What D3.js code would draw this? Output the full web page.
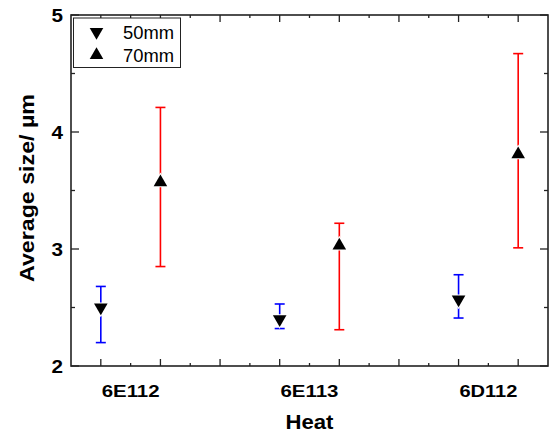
<!DOCTYPE html>
<html>
<head>
<meta charset="utf-8">
<script src="https://cdn.jsdelivr.net/npm/d3@7"></script>
<style>
  body { margin: 0; background: #fff; }
  svg text { font-family: "Liberation Sans", Arial, sans-serif; }
</style>
</head>
<body>
<svg id="chart" width="552" height="433"></svg>
<script>
const heats = ["6E112", "6E113", "6D112"];
const size50 = [2.50, 2.40, 2.57];
const top50  = [2.68, 2.53, 2.78];
const bot50  = [2.20, 2.32, 2.41];
const size70 = [3.57, 3.03, 3.81];
const top70  = [4.21, 3.22, 4.67];
const bot70  = [2.85, 2.31, 3.01];
const yTicks = [2, 3, 4, 5];

const width = 552, height = 433;
const m = { left: 71, right: 4, top: 15, bottom: 67 };
const svg = d3.select("#chart");

const x = d3.scaleLinear().domain([0.5, 8.5]).range([m.left, width - m.right]);
const y = d3.scaleLinear().domain([2, 5]).range([height - m.bottom, m.top]);

// 50mm at slot 1,4,7 ; 70mm at slot 2,5,8
const pts50 = heats.map((h, i) => ({ x: i * 3 + 1, v: size50[i], hi: top50[i], lo: bot50[i] }));
const pts70 = heats.map((h, i) => ({ x: i * 3 + 2, v: size70[i], hi: top70[i], lo: bot70[i] }));

const axisCol = "#222";
const majX = d3.range(1, 9), minX = d3.range(1.5, 8.5, 1);
const majY = yTicks, minY = [2.5, 3.5, 4.5];

const ax = svg.append("g").attr("stroke", axisCol).attr("stroke-width", 1.3);
function ticks(vals, len, side) {
  vals.forEach(v => {
    if (side === "b") ax.append("line").attr("x1", x(v)).attr("x2", x(v)).attr("y1", y(2)).attr("y2", y(2) - len);
    if (side === "t") ax.append("line").attr("x1", x(v)).attr("x2", x(v)).attr("y1", y(5)).attr("y2", y(5) + len);
    if (side === "l") ax.append("line").attr("y1", y(v)).attr("y2", y(v)).attr("x1", x(0.5)).attr("x2", x(0.5) + len);
    if (side === "r") ax.append("line").attr("y1", y(v)).attr("y2", y(v)).attr("x1", x(8.5)).attr("x2", x(8.5) - len);
  });
}
ticks(majX, 7, "b"); ticks(minX, 3, "b");
ticks(majX, 7, "t"); ticks(minX, 3, "t");
ticks(majY, 8, "l"); ticks(minY, 4, "l");
ticks(majY, 8, "r"); ticks(minY, 4, "r");
ax.append("rect").attr("x", x(0.5)).attr("y", y(5))
  .attr("width", x(8.5) - x(0.5)).attr("height", y(2) - y(5))
  .attr("fill", "none").attr("stroke-width", 1.6);

// tick labels
svg.selectAll(".ylab").data(yTicks).join("text")
  .attr("x", m.left - 8).attr("y", d => y(d) + 6.5)
  .attr("text-anchor", "end").attr("font-size", 18).attr("font-weight", "bold")
  .attr("textLength", 11.5).attr("lengthAdjust", "spacingAndGlyphs")
  .text(d => d);
svg.selectAll(".xlab").data(heats).join("text")
  .attr("x", (d, i) => x(i * 3 + 1.5) - 29).attr("y", 397)
  .attr("font-size", 17).attr("font-weight", "bold")
  .attr("textLength", 58).attr("lengthAdjust", "spacingAndGlyphs")
  .text(d => d);

svg.append("text").attr("x", x(4.5) - 24).attr("y", 429)
  .attr("font-size", 19.5).attr("font-weight", "bold")
  .attr("textLength", 48).attr("lengthAdjust", "spacingAndGlyphs").text("Heat");
svg.append("text").attr("transform", `translate(34,282) rotate(-90)`)
  .attr("font-size", 20).attr("font-weight", "bold")
  .attr("textLength", 188).attr("lengthAdjust", "spacingAndGlyphs").text("Average size/ µm");

// error bars + markers
function series(pts, col, down, cap) {
  const g = svg.append("g");
  pts.forEach(p => {
    g.append("line").attr("x1", x(p.x)).attr("x2", x(p.x)).attr("y1", y(p.hi)).attr("y2", y(p.lo))
      .attr("stroke", col).attr("stroke-width", 1.6);
    [p.hi, p.lo].forEach(v => g.append("line")
      .attr("x1", x(p.x) - cap).attr("x2", x(p.x) + cap).attr("y1", y(v)).attr("y2", y(v))
      .attr("stroke", col).attr("stroke-width", 1.6));
  });
  g.selectAll("path").data(pts).join("path")
    .attr("d", d3.symbol(d3.symbolTriangle, 80))
    .attr("transform", d => `translate(${x(d.x)},${y(d.v)}) rotate(${down ? 180 : 0})`)
    .attr("fill", "#000").attr("stroke", "#fff").attr("stroke-width", 2).attr("paint-order", "stroke");
}
series(pts50, "#0000ff", true, 5);
series(pts70, "#ff0000", false, 5);

// legend
const lg = svg.append("g");
lg.append("rect").attr("x", 73.5).attr("y", 18).attr("width", 107).attr("height", 49.5)
  .attr("fill", "#fff").attr("stroke", axisCol).attr("stroke-width", 1);
[["50mm", true], ["70mm", false]].forEach(([t, down], i) => {
  const cy = 32 + i * 23;
  lg.append("path").attr("d", d3.symbol(d3.symbolTriangle, 80))
    .attr("transform", `translate(96.5,${cy}) rotate(${down ? 180 : 0})`).attr("fill", "#000");
  lg.append("text").attr("x", 123).attr("y", cy + 6.5).attr("font-size", 17.5)
    .attr("textLength", 51).attr("lengthAdjust", "spacingAndGlyphs").text(t);
});
</script>
</body>
</html>
